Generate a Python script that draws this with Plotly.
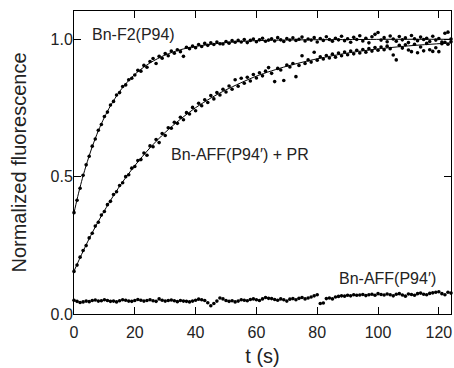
import plotly.graph_objects as go

# ---- data ----
T_SAMPLES = list(range(0, 125))  # 1 s sampling, 0..124 s

F2_P94 = [
    .369, .414, .458, .505, .543, .574, .611, .637, .669, .690,
    .719, .735, .761, .774, .797, .806, .828, .834, .853, .858,
    .870, .887, .884, .905, .898, .919, .930, .912, .938, .931,
    .948, .940, .957, .949, .962, .955, .938, .971, .966, .975,
    .969, .981, .974, .985, .978, .987, .981, .990, .984, .983,
    .992, .986, .995, .989, .996, .990, .999, .988, .996, 1.001,
    .991, .998, 1.004, .993, .997, 1.002, .994, 1.006, .998, .992,
    1.003, .997, 1.005, .996, 1.000, 1.008, .994, 1.001, .997, 1.006,
    .990, 1.003, .996, 1.009, .999, .993, 1.004, .998, 1.011, .995,
    1.002, .989, 1.007, .999, 1.013, .994, 1.004, .987, 1.009, 1.018,
    1.025, .997, 1.006, .991, 1.012, 1.001, .993, 1.010, .998, 1.005,
    .988, 1.014, 1.002, .995, 1.008, .999, 1.004, .992, 1.011, .997,
    1.003, .990, 1.022, 1.026, 1.001,
]

AFF_PR = [
    .155, .178, .207, .231, .249, .277, .294, .320, .334, .360,
    .373, .398, .410, .435, .445, .468, .478, .500, .507, .531,
    .537, .559, .562, .586, .578, .612, .609, .635, .624, .657,
    .650, .678, .676, .698, .694, .716, .707, .733, .728, .752,
    .740, .767, .758, .780, .770, .795, .783, .806, .797, .818,
    .808, .830, .818, .853, .829, .858, .840, .862, .848, .872,
    .859, .878, .867, .884, .897, .876, .846, .894, .888, .850,
    .906, .899, .912, .864, .905, .940, .912, .925, .917, .953,
    .924, .936, .928, .941, .932, .946, .935, .950, .940, .954,
    .944, .957, .947, .960, .950, .963, .953, .966, .957, .970,
    .960, .972, .962, .975, .966, .943, .925, .978, .968, .980,
    .961, .955, .982, .951, .972, .958, .985, .962, .956, .969,
    .955, .984, .989, .982, .991,
]

AFF_P94 = [
    .050, .046, .042, .044, .047, .045, .049, .051, .047, .048,
    .052, .049, .046, .047, .044, .048, .052, .050, .047, .046,
    .049, .053, .050, .047, .049, .052, .048, .046, .055, .050,
    .047, .049, .051, .048, .045, .049, .047, .046, .044, .047,
    .050, .054, .052, .049, .041, .030, .038, .047, .058, .055,
    .049, .046, .048, .044, .047, .052, .050, .048, .053, .055,
    .052, .049, .055, .060, .057, .056, .053, .050, .055, .052,
    .047, .054, .056, .052, .057, .060, .055, .058, .062, .066,
    .070, .038, .040, .056, .058, .055, .062, .064, .066, .065,
    .068, .066, .070, .068, .069, .071, .067, .070, .072, .068,
    .074, .071, .069, .073, .070, .066, .072, .074, .069, .065,
    .073, .071, .068, .074, .076, .072, .070, .075, .077, .079,
    .081, .074, .070, .079, .076,
]

# fitted curves, read at sample times
FIT1_T = [0, 1, 2, 3, 4, 6, 8, 10, 12, 15, 18, 21, 25, 30, 35, 40, 50, 60, 75, 90, 105, 124]
FIT1_V = [.368, .417, .462, .503, .541, .609, .667, .716, .758, .810, .850, .882,
          .914, .943, .962, .974, .988, .995, .998, .999, 1.0, 1.0]
FIT2_T = [0, 2, 4, 6, 8, 10, 13, 16, 20, 25, 30, 35, 40, 45, 50, 60, 70, 80, 90, 100, 110, 124]
FIT2_V = [.156, .205, .252, .296, .337, .376, .431, .481, .540, .605, .661, .709,
          .751, .786, .816, .866, .902, .929, .950, .965, .976, .987]

LABELS = ["Bn-F2(P94)", "Bn-AFF(P94\u2032) + PR", "Bn-AFF(P94\u2032)"]
LABEL_X = [19.5, 54.5, 103.2]
LABEL_Y = [1.016, 0.579, 0.128]

X_TICKS = [0, 20, 40, 60, 80, 100, 120]
Y_TICKS = [0.0, 0.5, 1.0]

FONT = "Arial, Liberation Sans, Helvetica, sans-serif"
INK = "#000000"
TXT = "#222222"

fig = go.Figure()
for ys in (F2_P94, AFF_PR, AFF_P94):
    fig.add_trace(go.Scatter(
        x=T_SAMPLES, y=ys, mode="markers",
        marker=dict(size=3.6, color=INK, line=dict(width=0)),
        cliponaxis=False, showlegend=False, hoverinfo="skip"))
for tx, vy in ((FIT1_T, FIT1_V), (FIT2_T, FIT2_V)):
    fig.add_trace(go.Scatter(
        x=tx, y=vy, mode="lines",
        line=dict(color=INK, width=1, shape="spline", smoothing=0.8),
        showlegend=False, hoverinfo="skip"))

for txt, lx, ly in zip(LABELS, LABEL_X, LABEL_Y):
    fig.add_annotation(x=lx, y=ly, text=txt, showarrow=False,
                       font=dict(family=FONT, size=16, color=TXT),
                       xanchor="center", yanchor="middle")

axis_common = dict(showline=True, linecolor=INK, linewidth=1, mirror="ticks",
                   ticks="inside", ticklen=7, tickwidth=1, tickcolor=INK,
                   showgrid=False, zeroline=False,
                   tickfont=dict(family=FONT, size=16, color=TXT))

fig.update_xaxes(range=[0, 124], tickvals=X_TICKS,
                 title=dict(text="t (s)", font=dict(family=FONT, size=20, color=TXT), standoff=8),
                 ticklabelstandoff=4, **axis_common)
fig.update_yaxes(range=[0, 1.103], tickvals=Y_TICKS, tickformat=".1f",
                 title=dict(text="Normalized fluorescence", font=dict(family=FONT, size=20, color=TXT), standoff=18),
                 ticklabelstandoff=-3, **axis_common)

fig.update_layout(width=454, height=368,
                  margin=dict(l=74, r=3, t=11, b=54, autoexpand=False),
                  paper_bgcolor="white", plot_bgcolor="white")

fig.write_html("out.html", config={"displayModeBar": False},
               post_script="document.body.style.margin='0';document.body.style.padding='0';")
